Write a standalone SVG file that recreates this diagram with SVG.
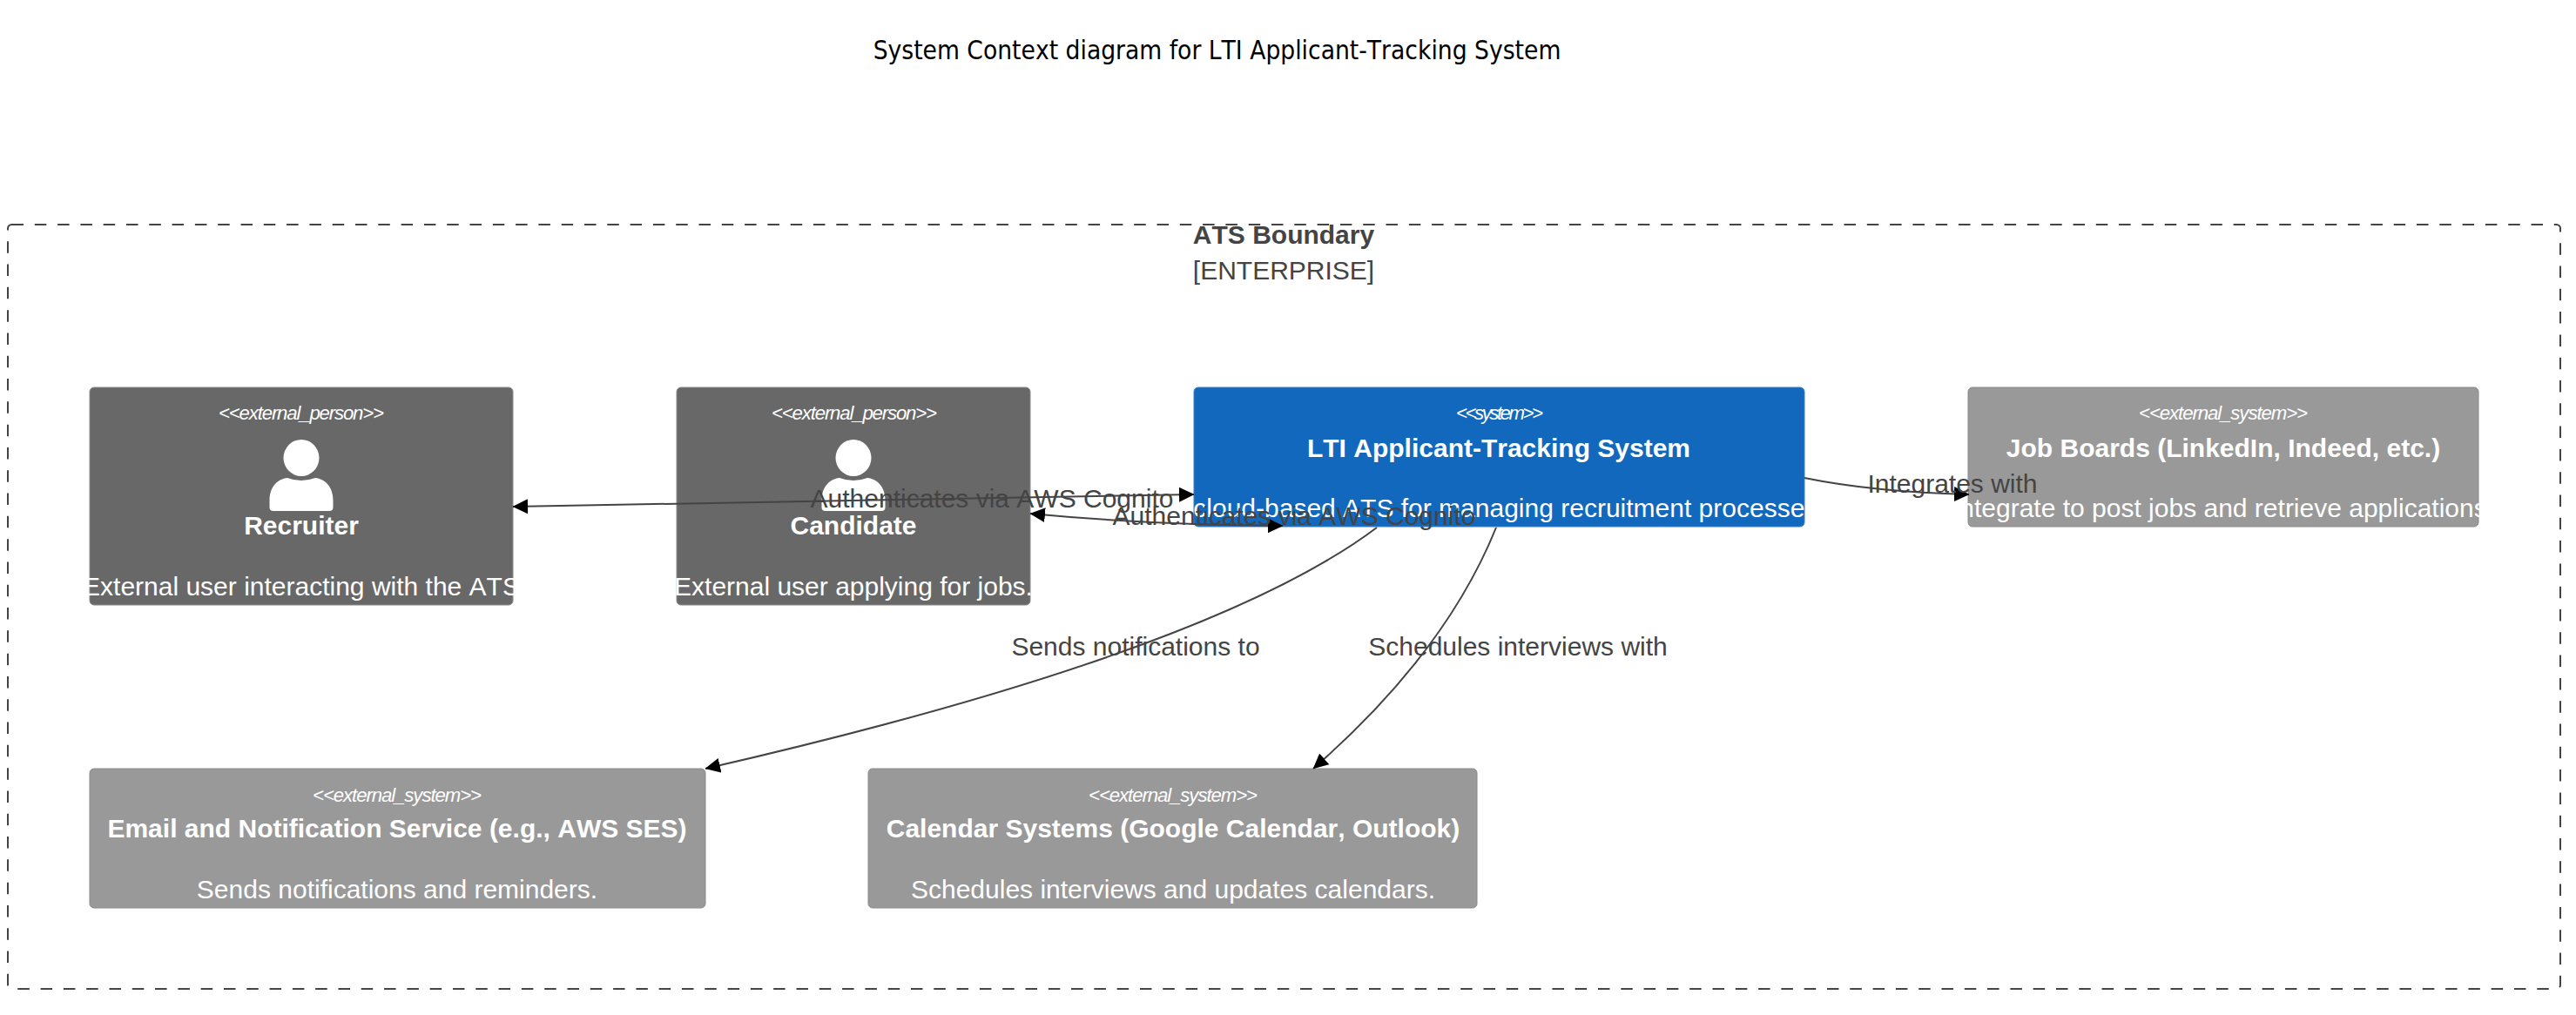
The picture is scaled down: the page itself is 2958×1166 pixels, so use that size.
<svg xmlns="http://www.w3.org/2000/svg" width="2958" height="1166" viewBox="0 0 2958 1166">
<style>
text{font-family:"Liberation Sans",Arial,sans-serif;font-size:30px;text-anchor:middle;font-kerning:none}
.title{font-family:"DejaVu Sans",Verdana,sans-serif;font-stretch:condensed;font-size:29.600px;fill:#000}
.bl{fill:#444}
.rl{fill:#444}
.st{fill:#fff;font-style:italic;font-size:22.2px}
.nm{fill:#fff;font-weight:bold}
.ds{fill:#fff}
.b{font-weight:bold}
.ext-p{fill:#686868;stroke:#8a8a8a;stroke-width:1}
.sys{fill:#1168bd;stroke:#3c7fc0;stroke-width:1}
.ext-s{fill:#999;stroke:#8a8a8a;stroke-width:1}
.boundary{fill:none;stroke:#444;stroke-width:2;stroke-dasharray:13.500,12.800}
.c{fill:none;stroke:#444;stroke-width:2}
.arrow{marker-end:url(#ah)}
.both{marker-start:url(#ah);marker-end:url(#ah)}
</style>
<defs>
<marker id="ah" markerUnits="userSpaceOnUse" markerWidth="18" markerHeight="18" refX="17" refY="9" orient="auto-start-reverse" viewBox="0 0 18 18"><path d="M0 0.5L17.5 9L0 17.5Z" fill="#000"/></marker>
<g id="person"><ellipse cx="0" cy="21" rx="20.5" ry="21" fill="#fff"/><path d="M-36.500 80V70C-36.500 54-27 45-16 44Q0 50 16 44C27 45 36.500 54 36.500 70V78Q36.500 82 32 82H-32Q-36.500 82-36.500 78Z" fill="#fff"/></g>
</defs>
<rect width="2958" height="1166" fill="#fff"/>
<text class="title" x="1397.500" y="68">System Context diagram for LTI Applicant-Tracking System</text>
<g id="ats-boundary">
<rect class="boundary" x="9" y="258" width="2931" height="878" rx="4.500"/>
<text class="bl b" x="1474" y="280">ATS Boundary</text>
<text class="bl" x="1474" y="321">[ENTERPRISE]</text>
</g>
<g id="recruiter">
<rect class="ext-p" x="103" y="445" width="486" height="250" rx="5"/>
<text class="st" x="346" y="482" textLength="190">&lt;&lt;external_person&gt;&gt;</text>
<use href="#person" x="346" y="505"/>
<text class="nm" x="346" y="614">Recruiter</text>
<text class="ds" x="346" y="684">External user interacting with the ATS</text>
</g>
<g id="candidate">
<rect class="ext-p" x="777" y="445" width="406" height="250" rx="5"/>
<text class="st" x="981" y="482" textLength="190">&lt;&lt;external_person&gt;&gt;</text>
<use href="#person" x="980" y="505"/>
<text class="nm" x="980" y="614">Candidate</text>
<text class="ds" x="980" y="684">External user applying for jobs.</text>
</g>
<g id="ats">
<rect class="sys" x="1371" y="445" width="701" height="160" rx="5"/>
<text class="st" x="1722" y="482" textLength="100">&lt;&lt;system&gt;&gt;</text>
<text class="nm" x="1721" y="525">LTI Applicant-Tracking System</text>
<text class="ds" x="1733" y="594">cloud-based ATS for managing recruitment processes.</text>
</g>
<g id="job-boards">
<rect class="ext-s" x="2260" y="445" width="586" height="160" rx="5"/>
<text class="st" x="2553" y="482" textLength="194">&lt;&lt;external_system&gt;&gt;</text>
<text class="nm" x="2553" y="525">Job Boards (LinkedIn, Indeed, etc.)</text>
<text class="ds" x="2553" y="594">Integrate to post jobs and retrieve applications.</text>
</g>
<g id="email">
<rect class="ext-s" x="103" y="883" width="707" height="160" rx="5"/>
<text class="st" x="456" y="921" textLength="194">&lt;&lt;external_system&gt;&gt;</text>
<text class="nm" x="456" y="962">Email and Notification Service (e.g., AWS SES)</text>
<text class="ds" x="456" y="1032">Sends notifications and reminders.</text>
</g>
<g id="calendar">
<rect class="ext-s" x="997" y="883" width="699" height="160" rx="5"/>
<text class="st" x="1347" y="921" textLength="194">&lt;&lt;external_system&gt;&gt;</text>
<text class="nm" x="1347" y="962">Calendar Systems (Google Calendar, Outlook)</text>
<text class="ds" x="1347" y="1032">Schedules interviews and updates calendars.</text>
</g>
<g id="connectors">
<path class="c both" d="M589 582L1371 568"/>
<path class="c both" d="M1183 590Q1320 603 1473 604"/>
<path class="c arrow" d="M2072 549Q2150 565 2261 568"/>
<path class="c arrow" d="M1581 606Q1390 750 810 883"/>
<path class="c arrow" d="M1718 606Q1660 750 1508 883"/>
<text class="rl" x="1139" y="583">Authenticates via AWS Cognito</text>
<text class="rl" x="1486" y="603">Authenticates via AWS Cognito</text>
<text class="rl" x="2242" y="566">Integrates with</text>
<text class="rl" x="1304" y="753">Sends notifications to</text>
<text class="rl" x="1743" y="753">Schedules interviews with</text>
</g>
</svg>
